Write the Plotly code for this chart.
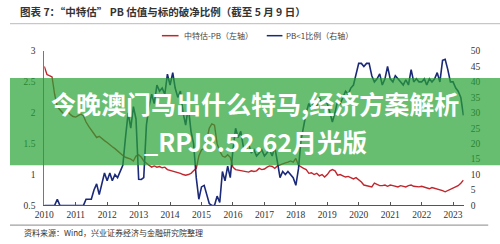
import plotly.graph_objects as go
import pandas as pd

# 中特估-PB (left axis), monthly from 2010-01 to 2023-05
pb_values = [
    2.75, 2.62, 2.60, 2.58, 2.30, 2.10, 2.05, 2.00, 1.97, 2.02, 1.97, 1.94,
    1.93, 1.96, 1.98, 1.95, 1.85, 1.78, 1.72, 1.65, 1.60, 1.62, 1.58, 1.55,
    1.52, 1.48, 1.45, 1.42, 1.38, 1.35, 1.31, 1.28, 1.27, 1.25, 1.22, 1.30,
    1.32, 1.28, 1.22, 1.18, 1.15, 1.12, 1.14, 1.12, 1.13, 1.11, 1.12, 1.08,
    1.07, 1.06, 1.04, 1.03, 1.02, 1.00, 0.99, 1.00, 1.02, 1.06, 1.10, 1.30,
    1.40, 1.42, 1.55, 1.75, 1.82, 1.80, 1.50, 1.38, 1.30, 1.28, 1.32, 1.28,
    1.12, 1.08, 1.07, 1.06, 1.05, 1.05, 1.04, 1.06, 1.05, 1.06, 1.10, 1.08,
    1.09, 1.12, 1.14, 1.13, 1.10, 1.14, 1.16, 1.18, 1.19, 1.20, 1.22, 1.20,
    1.26, 1.15, 1.12, 1.10, 1.08, 1.02, 1.03, 1.00, 1.02, 0.98, 1.00, 0.96,
    1.00, 1.06, 1.08, 1.06, 0.99, 1.00, 0.98, 0.96, 0.97, 0.95, 0.93, 0.95,
    0.92, 0.88, 0.83, 0.82, 0.80, 0.80, 0.86, 0.84, 0.82, 0.82, 0.83, 0.81,
    0.83, 0.82, 0.81, 0.80, 0.82, 0.81, 0.80, 0.82, 0.83, 0.81, 0.80, 0.80,
    0.81, 0.80, 0.78, 0.77, 0.79, 0.78, 0.76, 0.75, 0.74, 0.72, 0.74, 0.75,
    0.78, 0.80, 0.82, 0.86, 0.91,
]

# PB<1 比例 (right axis, %), monthly from 2010-01 to 2023-05
ratio_values = [
    0, 0, 0, 0, 0, 2, 0, 0, 0, 0, 0, 0,
    0, 0, 0, 0, 2, 2, 2, 5, 7, 3.5, 7.5, 10.5,
    8, 10.5, 8, 10, 9, 11, 13, 22, 30, 25, 32, 28,
    8.5, 8.4, 9, 26, 32, 36, 33, 39, 37, 38, 36, 42.5,
    39, 43, 38, 35, 37, 30, 26, 32, 24, 20, 9, 2,
    6, 6.5, 4, 0.6, 0, 0, 3, 1, 11, 8, 12.7, 9,
    18, 25, 22, 24, 19, 18, 20, 17, 18, 16, 17, 18,
    16, 17, 18, 16, 19, 14, 9, 11, 10, 11, 10, 9,
    6.5, 12, 21, 26, 30, 33, 31, 34, 32, 35, 33, 34,
    33, 30, 27, 30, 34, 33, 35, 37, 36, 38, 39, 43,
    46, 46, 45, 46, 46, 42, 40, 41, 42.6, 39, 41, 45,
    41, 40, 42, 41, 40, 39, 40.7, 39, 44, 40, 41, 40,
    40, 41, 39, 41, 40, 41, 43, 40, 47, 47.3, 44, 40,
    40, 38, 37, 35, 29.2,
]

dates = pd.date_range("2010-01-01", periods=len(pb_values), freq="MS")

left_ticks = [0.5, 1, 1.5, 2, 2.5, 3]
left_labels = ["0.5", "1", "1.5", "2", "2.5", "3"]
right_ticks = [0, 5, 10, 15, 20, 25, 30, 35, 40, 45, 50]
year_ticks = [str(y) for y in range(2010, 2024)]

title_text = "图表 7：“中特估” PB 估值与标的破净比例（截至 5 月 9 日）"
legend_red = "中特估-PB（左轴）"
legend_blue = "PB<1比例（右轴）"
source_text = "资料来源：Wind，兴业证券经济与金融研究院整理"
banner_1 = "今晚澳门马出什么特马,经济方案解析"
banner_2 = "_RPJ8.52.62月光版"

RED = "#c0262c"
BLUE = "#1b2a78"
W, H = 500, 244

def px_x(x):
    return x / W

def px_y(y):
    return 1 - y / H

fig = go.Figure()
fig.add_trace(go.Scatter(x=dates, y=pb_values, mode="lines",
                         line=dict(color=RED, width=1.4), yaxis="y", showlegend=False))
fig.add_trace(go.Scatter(x=dates, y=ratio_values, mode="lines",
                         line=dict(color=BLUE, width=1.6), yaxis="y2", showlegend=False))

tick_font = dict(family="'Liberation Serif', 'Times New Roman', serif", size=9.5, color="#333")

fig.update_layout(
    width=W, height=H,
    margin=dict(l=0, r=0, t=0, b=0),
    paper_bgcolor="white", plot_bgcolor="white",
    xaxis=dict(
        domain=[px_x(35), px_x(463)],
        type="date",
        range=["2010-01-01", "2023-05-05"],
        tickvals=[f"{y}-01-01" for y in year_ticks],
        ticktext=year_ticks,
        ticks="inside", ticklen=3, tickcolor="#555",
        showline=True, linecolor="#555", linewidth=1,
        showgrid=False, zeroline=False,
        tickfont=tick_font,
    ),
    yaxis=dict(
        domain=[px_y(209), px_y(48)],
        range=[0.5, 3],
        tickvals=left_ticks, ticktext=left_labels,
        ticks="outside", ticklen=6, tickcolor="rgba(0,0,0,0)",
        showline=True, linecolor="#777", linewidth=1,
        showgrid=False, zeroline=False,
        tickfont=tick_font,
    ),
    yaxis2=dict(
        overlaying="y", side="right",
        range=[0, 50],
        tickvals=right_ticks, ticksuffix="%",
        showline=False, showgrid=False, zeroline=False,
        ticks="outside", ticklen=4, tickcolor="rgba(0,0,0,0)",
        tickfont=tick_font,
    ),
)

shapes = [
    # line under the title
    dict(type="line", xref="paper", yref="paper", x0=0, x1=1, y0=px_y(19.5), y1=px_y(19.5),
         line=dict(color="#bbb", width=1)),
    # line above the source
    dict(type="line", xref="paper", yref="paper", x0=0, x1=px_x(488), y0=px_y(229.5), y1=px_y(229.5),
         line=dict(color="#888", width=1)),
    # legend samples
    dict(type="line", xref="paper", yref="paper", x0=px_x(155), x1=px_x(172), y0=px_y(32), y1=px_y(32),
         line=dict(color=RED, width=1.5)),
    dict(type="line", xref="paper", yref="paper", x0=px_x(262), x1=px_x(278), y0=px_y(32), y1=px_y(32),
         line=dict(color=BLUE, width=1.5)),
    # green banner overlay
    dict(type="rect", xref="paper", yref="paper", x0=0, x1=1, y0=px_y(167), y1=px_y(76),
         fillcolor="rgba(39,162,51,0.7)", line=dict(width=0), layer="above"),
]
fig.update_layout(shapes=shapes)

annotations = [
    dict(text="<b>" + title_text + "</b>", xref="paper", yref="paper", x=px_x(8), y=px_y(7),
         xanchor="left", yanchor="middle", showarrow=False,
         font=dict(family="Noto Sans CJK SC", size=10.5, color="#333")),
    dict(text=legend_red, xref="paper", yref="paper", x=px_x(175), y=px_y(32),
         xanchor="left", yanchor="middle", showarrow=False,
         font=dict(family="Noto Sans CJK SC", size=8, color="#444")),
    dict(text=legend_blue, xref="paper", yref="paper", x=px_x(280), y=px_y(32),
         xanchor="left", yanchor="middle", showarrow=False,
         font=dict(family="Noto Sans CJK SC", size=8, color="#444")),
    dict(text=source_text, xref="paper", yref="paper", x=px_x(12), y=px_y(237),
         xanchor="left", yanchor="middle", showarrow=False,
         font=dict(family="Noto Sans CJK SC", size=8, color="#333")),
    dict(text="<b>" + banner_1 + "</b>", xref="paper", yref="paper", x=0.5, y=px_y(102),
         xanchor="center", yanchor="middle", showarrow=False,
         font=dict(family="Noto Sans CJK SC", size=25, color="white")),
    dict(text="<b>" + banner_2 + "</b>", xref="paper", yref="paper", x=0.5, y=px_y(142),
         xanchor="center", yanchor="middle", showarrow=False,
         font=dict(family="Noto Sans CJK SC", size=25, color="white")),
]
fig.update_layout(annotations=annotations)

fig.write_html("out.html")
